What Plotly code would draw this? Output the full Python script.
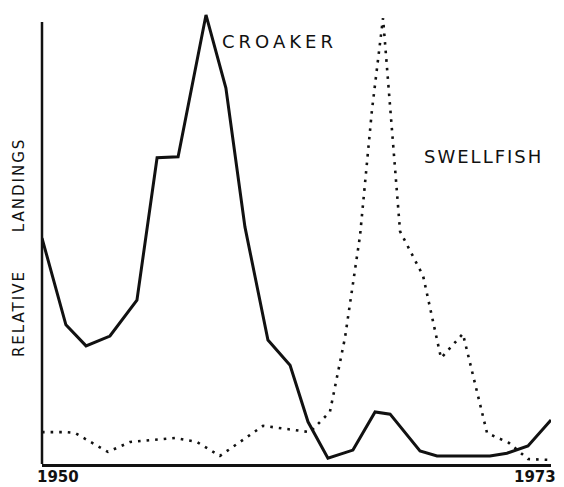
import plotly.graph_objects as go

# Croaker (solid) - years, relative landings (0-100)
croaker_year = [1950.00, 1951.08, 1951.99, 1953.07, 1954.29, 1955.20, 1956.15, 1957.41,
                1958.31, 1959.17, 1960.21, 1961.21, 1962.02, 1962.92, 1964.05, 1965.05,
                1965.73, 1967.08, 1967.85, 1970.24, 1971.01, 1971.96, 1973.00]
croaker_val = [50.3, 31.0, 26.3, 28.5, 36.5, 68.2, 68.4, 100.0,
               83.7, 52.8, 27.6, 22.0, 9.4, 1.3, 3.1, 11.6,
               11.1, 2.9, 1.8, 1.8, 2.4, 4.0, 9.8]

# Swellfish (dotted)
swell_year = [1950.00, 1951.08, 1951.49, 1952.98, 1953.98, 1956.01, 1957.00, 1958.04,
              1959.99, 1962.11, 1962.65, 1963.01, 1963.69, 1964.37, 1964.91, 1965.41,
              1966.18, 1966.63, 1967.22, 1968.03, 1969.02, 1970.11, 1971.10, 1971.96, 1973.00]
swell_val = [7.1, 7.1, 6.9, 2.7, 4.9, 5.8, 4.9, 1.8,
             8.5, 7.1, 9.8, 11.6, 28.1, 50.8, 78.8, 99.3,
             51.8, 47.6, 41.9, 23.6, 29.0, 6.9, 4.7, 1.1, 0.9]

tick_years = [1950, 1973]
tick_labels = ["1950", "1973"]
series_names = ["CROAKER", "SWELLFISH"]
ytitle_words = ["RELATIVE", "LANDINGS"]

YMAX = 101.1
AXIS_TOP = 98.4

fig = go.Figure()
fig.add_trace(go.Scatter(x=croaker_year, y=croaker_val, mode="lines",
                         line=dict(color="#111111", width=3), name=series_names[0]))
fig.add_trace(go.Scatter(x=swell_year, y=swell_val, mode="lines",
                         line=dict(color="#111111", width=2.6, dash="2.6px,6px"),
                         name=series_names[1]))

# y-axis line (partial height)
fig.add_shape(type="line", xref="paper", yref="y", x0=0, x1=0, y0=0, y1=AXIS_TOP,
              line=dict(color="#111111", width=2.5))

font_main = "DejaVu Sans, Arial, sans-serif"
ann = []
ann.append(dict(x=1960.75, y=94.0, xref="x", yref="y", showarrow=False,
                text='<span style="letter-spacing:4px">%s</span>' % series_names[0],
                font=dict(family=font_main, size=18, color="#111111"),
                xanchor="center", yanchor="middle"))
ann.append(dict(x=1969.93, y=68.4, xref="x", yref="y", showarrow=False,
                text='<span style="letter-spacing:2px">%s</span>' % series_names[1],
                font=dict(family=font_main, size=18, color="#111111"),
                xanchor="center", yanchor="middle"))
ann.append(dict(x=-0.045, y=33.4, xref="paper", yref="y", showarrow=False, textangle=-90,
                text='<span style="letter-spacing:2px">%s</span>' % ytitle_words[0],
                font=dict(family=font_main, size=15, color="#111111"),
                xanchor="center", yanchor="middle"))
ann.append(dict(x=-0.045, y=62.1, xref="paper", yref="y", showarrow=False, textangle=-90,
                text='<span style="letter-spacing:2px">%s</span>' % ytitle_words[1],
                font=dict(family=font_main, size=15, color="#111111"),
                xanchor="center", yanchor="middle"))
ann.append(dict(x=tick_years[0], y=0, xref="x", yref="paper", showarrow=False,
                text="<b>%s</b>" % tick_labels[0], xanchor="left", yanchor="middle",
                xshift=-7, yshift=-13,
                font=dict(family=font_main, size=15, color="#111111")))
ann.append(dict(x=tick_years[1], y=0, xref="x", yref="paper", showarrow=False,
                text="<b>%s</b>" % tick_labels[1], xanchor="right", yanchor="middle",
                xshift=7, yshift=-13,
                font=dict(family=font_main, size=15, color="#111111")))

# page body has an 8px margin; figure sized to fit the 564x487 window exactly
fig.update_layout(
    width=556, height=479,
    margin=dict(l=34, r=13, t=2, b=23, pad=0),
    paper_bgcolor="white", plot_bgcolor="white",
    showlegend=False,
    annotations=ann,
    xaxis=dict(range=[1950, 1973], showgrid=False, zeroline=False, showticklabels=False,
               ticks="", showline=True, linecolor="#111111", linewidth=2.5),
    yaxis=dict(range=[0, YMAX], showgrid=False, zeroline=False, showticklabels=False,
               ticks="", showline=False),
)

fig.write_html("out.html")
